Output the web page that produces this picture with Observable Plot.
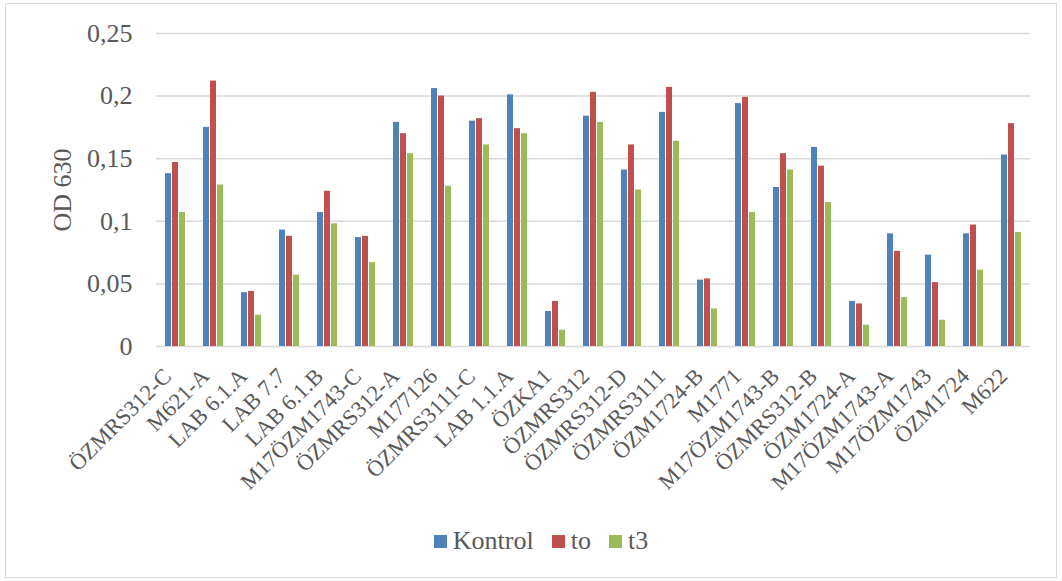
<!DOCTYPE html>
<html>
<head>
<meta charset="utf-8">
<script src="https://cdn.jsdelivr.net/npm/d3@7"></script>
<script src="https://cdn.jsdelivr.net/npm/@observablehq/plot@0.6"></script>
<style>
  html, body { margin: 0; padding: 0; background: #fff; }
  #chart { position: relative; width: 1062px; height: 581px; font-family: 'Liberation Serif', serif; color: #595959; }
  #frame { position: absolute; left: 5px; top: 3px; width: 1050px; height: 573px; border: 1.5px solid #d9d9d9; box-sizing: content-box; }
  #plot { position: absolute; left: 0; top: 0; }
  #plot svg { font-family: 'Liberation Serif', serif; }
  #legend { position: absolute; left: 20px; width: 1042px; top: 526px; display: flex; justify-content: center; align-items: center; font-size: 26px; color: #595959; }
  .item { display: flex; align-items: center; margin: 0 9px; }
  .sw { width: 13px; height: 13px; margin-right: 6px; }
</style>
</head>
<body>
<div id="chart">
  <div id="frame"></div>
  <div id="plot"></div>
  <div id="legend"></div>
</div>
<script>
// Isolates and their OD 630 readings for each treatment
const categories = [
  "ÖZMRS312-C", "M621-A", "LAB 6.1.A", "LAB 7.7", "LAB 6.1.B", "M17ÖZM1743-C",
  "ÖZMRS312-A", "M177126", "ÖZMRS3111-C", "LAB 1.1.A", "ÖZKA1", "ÖZMRS312",
  "ÖZMRS312-D", "ÖZMRS3111", "ÖZM1724-B", "M1771", "M17ÖZM1743-B", "ÖZMRS312-B",
  "ÖZM1724-A", "M17ÖZM1743-A", "M17ÖZM1743", "ÖZM1724", "M622"
];
const kontrol = [0.138, 0.175, 0.043, 0.093, 0.107, 0.087, 0.179, 0.206, 0.180, 0.201, 0.028, 0.184,
                 0.141, 0.187, 0.053, 0.194, 0.127, 0.159, 0.036, 0.090, 0.073, 0.090, 0.153];
const to      = [0.147, 0.212, 0.044, 0.088, 0.124, 0.088, 0.170, 0.200, 0.182, 0.174, 0.036, 0.203,
                 0.161, 0.207, 0.054, 0.199, 0.154, 0.144, 0.034, 0.076, 0.051, 0.097, 0.178];
const t3      = [0.107, 0.129, 0.025, 0.057, 0.098, 0.067, 0.154, 0.128, 0.161, 0.170, 0.013, 0.179,
                 0.125, 0.164, 0.030, 0.107, 0.141, 0.115, 0.017, 0.039, 0.021, 0.061, 0.091];
const seriesNames = ["Kontrol", "to", "t3"];
const seriesColors = ["#4F81BD", "#C0504D", "#9BBB59"];
const yTicks = [0, 0.05, 0.1, 0.15, 0.2, 0.25];

const seriesValues = [kontrol, to, t3];
const rows = categories.flatMap((category, i) =>
  seriesNames.map((series, s) => ({category, series, value: seriesValues[s][i]}))
);

const comma = d => String(+d.toFixed(2)).replace(".", ",");

const chart = Plot.plot({
  width: 1062,
  height: 500,
  marginLeft: 147,
  marginRight: 24,
  marginTop: 33,
  marginBottom: 154,
  style: {color: "#595959", background: "transparent", overflow: "visible"},
  fx: {domain: categories, padding: 0},
  x: {domain: seriesNames, paddingInner: 0.16, paddingOuter: 1.0},
  y: {domain: [0, 0.25]},
  color: {domain: seriesNames, range: seriesColors},
  marks: [
    Plot.ruleY(yTicks, {stroke: "#d9d9d9", strokeWidth: 1.5}),
    Plot.barY(rows, {fx: "category", x: "series", y: "value", fill: "series"}),
    Plot.axisY({ticks: yTicks, tickFormat: comma, tickSize: 0, tickPadding: 24, fontSize: 26,
                label: "OD 630", labelAnchor: "center", labelOffset: 104, labelArrow: "none"}),
    Plot.axisX({ticks: [], label: null}),
    Plot.axisFx({anchor: "bottom", tickRotate: -45, tickSize: 0, tickPadding: 26, dx: -8, fontSize: 22.5, label: null})
  ]
});
document.getElementById("plot").appendChild(chart);

// Legend below the plot
const legend = document.getElementById("legend");
seriesNames.forEach((name, i) => {
  const item = document.createElement("div");
  item.className = "item";
  const sw = document.createElement("span");
  sw.className = "sw";
  sw.style.background = seriesColors[i];
  const label = document.createElement("span");
  label.textContent = name;
  item.append(sw, label);
  legend.appendChild(item);
});
</script>
</body>
</html>
